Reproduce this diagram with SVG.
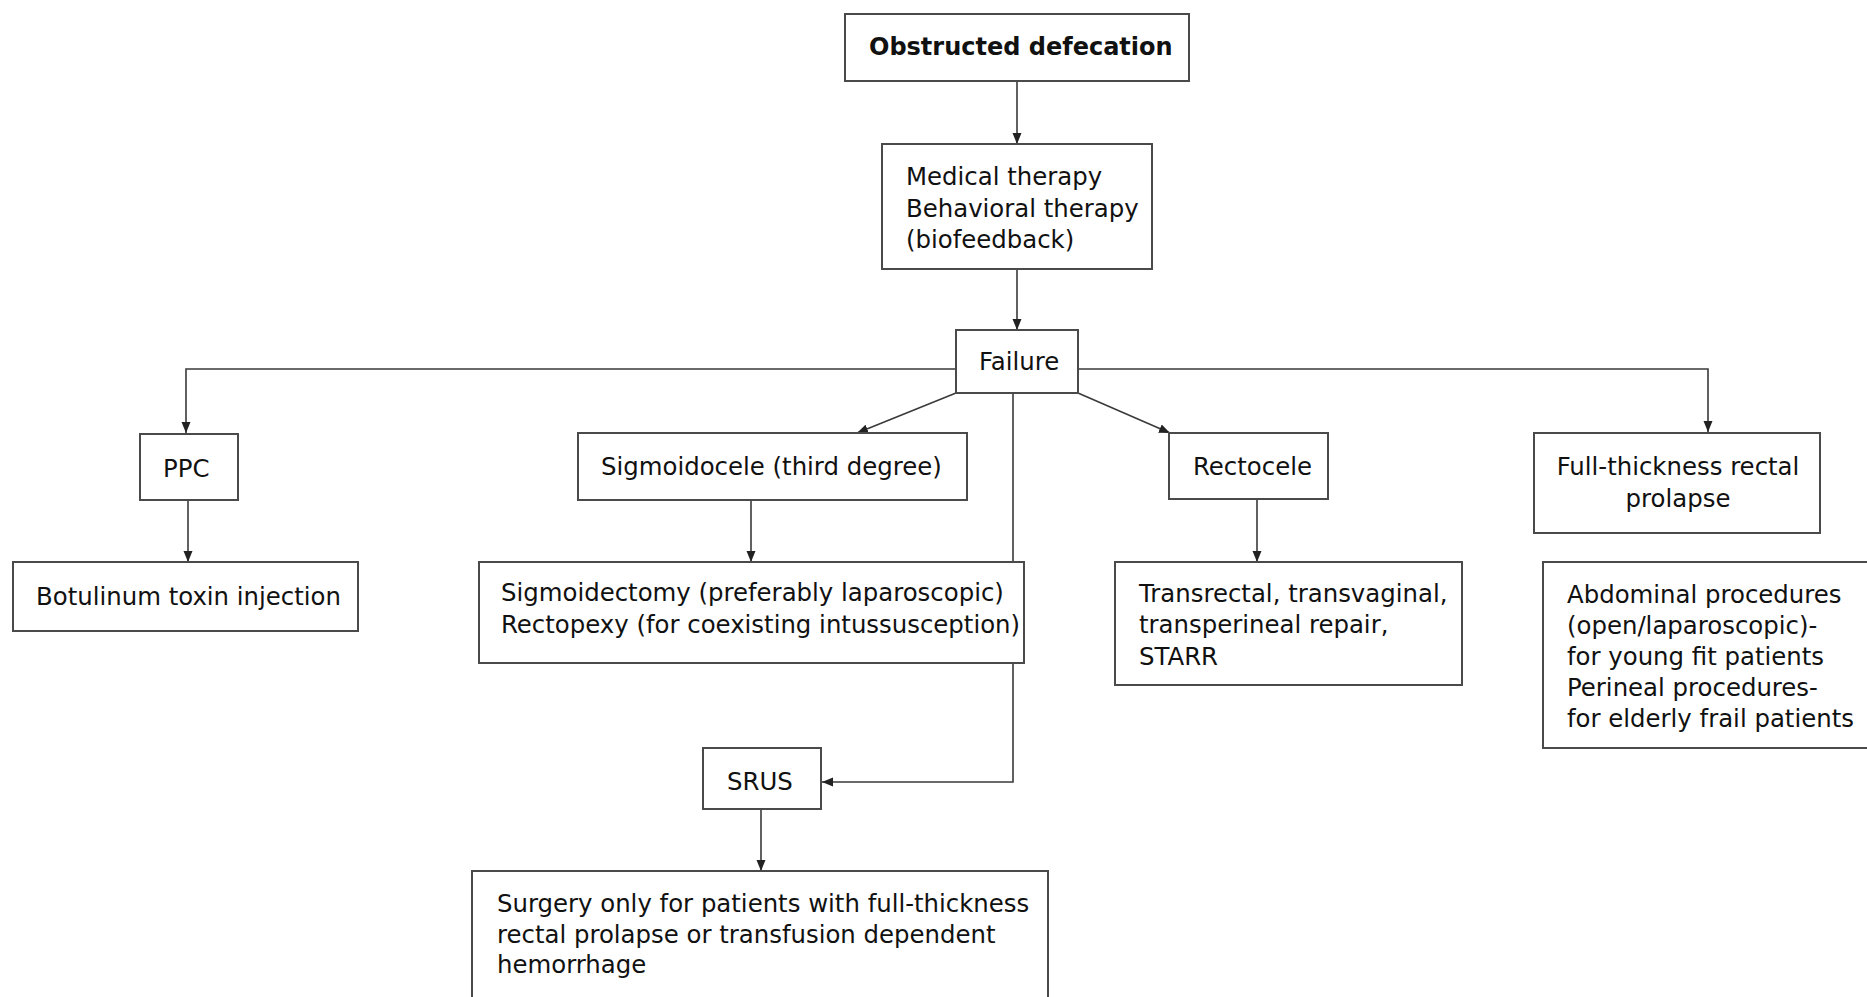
<svg xmlns="http://www.w3.org/2000/svg" width="1867" height="997" viewBox="0 0 1867 997">
<style>
.box{fill:#fff;stroke:#4a4a4a;stroke-width:2}
.t{font-family:"DejaVu Sans",Verdana,sans-serif;font-size:24.4px;fill:#111}
.b{font-weight:bold;font-size:24px}
.c{fill:none;stroke:#3a3a3a;stroke-width:1.6}
</style>
<defs>
<marker id="ah" markerUnits="userSpaceOnUse" markerWidth="12" markerHeight="10" refX="11" refY="5" orient="auto">
<path d="M0,0.5 L11,5 L0,9.5 z" fill="#222"/>
</marker>
</defs>
<rect width="1867" height="997" fill="#fff"/>
<g id="connectors">
<path class="c" d="M1017,81 V144" marker-end="url(#ah)"/>
<path class="c" d="M1017,269 V330" marker-end="url(#ah)"/>
<path class="c" d="M956,369 H186 V433" marker-end="url(#ah)"/>
<path class="c" d="M1078,369 H1708 V432" marker-end="url(#ah)"/>
<path class="c" d="M188,500 V562" marker-end="url(#ah)"/>
<path class="c" d="M956,393 L857,433" marker-end="url(#ah)"/>
<path class="c" d="M1078,393 L1170,433" marker-end="url(#ah)"/>
<path class="c" d="M1013,393 V782 H822" marker-end="url(#ah)"/>
<path class="c" d="M751,500 V562" marker-end="url(#ah)"/>
<path class="c" d="M1257,499 V562" marker-end="url(#ah)"/>
<path class="c" d="M761,809 V871" marker-end="url(#ah)"/>
</g>
<g id="obstructed">
<rect class="box" x="845" y="14" width="344" height="67"/>
<text class="t b" x="869" y="55">Obstructed defecation</text>
</g>
<g id="medical">
<rect class="box" x="882" y="144" width="270" height="125"/>
<text class="t" x="906" y="185">Medical therapy</text>
<text class="t" x="906" y="217">Behavioral therapy</text>
<text class="t" x="906" y="248">(biofeedback)</text>
</g>
<g id="failure">
<rect class="box" x="956" y="330" width="122" height="63"/>
<text class="t" x="979" y="370">Failure</text>
</g>
<g id="ppc">
<rect class="box" x="140" y="434" width="98" height="66"/>
<text class="t" x="163" y="477">PPC</text>
</g>
<g id="botulinum">
<rect class="box" x="13" y="562" width="345" height="69"/>
<text class="t" x="36" y="605">Botulinum toxin injection</text>
</g>
<g id="sigmoidocele">
<rect class="box" x="578" y="433" width="389" height="67"/>
<text class="t" x="601" y="475">Sigmoidocele (third degree)</text>
</g>
<g id="sigmoidectomy">
<rect class="box" x="479" y="562" width="545" height="101"/>
<text class="t" x="501" y="601">Sigmoidectomy (preferably laparoscopic)</text>
<text class="t" x="501" y="633">Rectopexy (for coexisting intussusception)</text>
</g>
<g id="rectocele">
<rect class="box" x="1169" y="433" width="159" height="66"/>
<text class="t" x="1193" y="475">Rectocele</text>
</g>
<g id="transrectal">
<rect class="box" x="1115" y="562" width="347" height="123"/>
<text class="t" x="1139" y="602">Transrectal, transvaginal,</text>
<text class="t" x="1139" y="633">transperineal repair,</text>
<text class="t" x="1139" y="665">STARR</text>
</g>
<g id="fullthickness">
<rect class="box" x="1534" y="433" width="286" height="100"/>
<text class="t" x="1678" y="475" text-anchor="middle">Full-thickness rectal</text>
<text class="t" x="1678" y="507" text-anchor="middle">prolapse</text>
</g>
<g id="abdominal">
<rect class="box" x="1543" y="562" width="340" height="186"/>
<text class="t" x="1567" y="603">Abdominal procedures</text>
<text class="t" x="1567" y="634">(open/laparoscopic)-</text>
<text class="t" x="1567" y="665">for young fit patients</text>
<text class="t" x="1567" y="696">Perineal procedures-</text>
<text class="t" x="1567" y="727">for elderly frail patients</text>
</g>
<g id="srus">
<rect class="box" x="703" y="748" width="118" height="61"/>
<text class="t" x="727" y="790">SRUS</text>
</g>
<g id="surgery">
<rect class="box" x="472" y="871" width="576" height="140"/>
<text class="t" x="497" y="912">Surgery only for patients with full-thickness</text>
<text class="t" x="497" y="943">rectal prolapse or transfusion dependent</text>
<text class="t" x="497" y="973">hemorrhage</text>
</g>
</svg>
